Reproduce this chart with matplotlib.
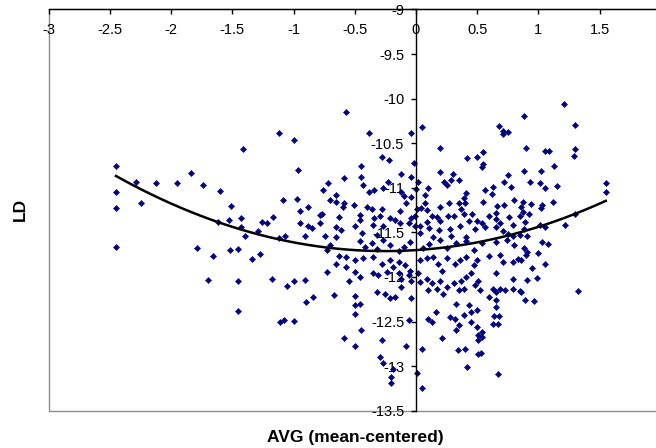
## Scatter of LD vs mean-centered AVG with 2nd order trendline (Excel look)
import numpy as np
import matplotlib
matplotlib.use("Agg")
import matplotlib.pyplot as plt
from matplotlib.patches import Rectangle
from matplotlib.ticker import FuncFormatter, MultipleLocator

# Points (AVG mean-centered, LD)
avg_left = [-2.45, -2.45, -2.45, -2.45, -2.29, -2.25, -2.12, -1.95, -1.84, -1.74, -1.60, -1.51,
            -1.53, -1.62, -1.41, -1.12, -1.00, -0.96, -1.43, -1.43, -1.40, -1.29, -1.26, -1.22,
            -1.17, -1.09, -0.97, -0.95, -0.88, -0.95, -0.88, -0.85, -0.91, -1.07, -1.12, -0.78,
            -0.77, -0.76, -0.72, -0.78, -0.74, -0.73, -1.79, -1.66, -1.52, -1.45, -1.34, -1.27,
            -1.70, -1.45, -1.18, -1.05, -1.00, -0.91, -0.90, -0.84, -1.45, -1.11, -1.08, -1.00,
            -0.73, -0.67, -0.65, -0.70, -0.63, -0.70, -0.65, -0.65, -0.63, -0.65, -0.65]
ld_left = [-10.75, -11.05, -11.23, -11.66, -10.94, -11.17, -10.95, -10.95, -10.83, -10.97, -11.04, -11.20,
           -11.36, -11.38, -10.56, -10.39, -10.46, -10.80, -11.34, -11.44, -11.54, -11.49, -11.38, -11.40,
           -11.33, -11.14, -11.13, -11.26, -11.22, -11.40, -11.43, -11.45, -11.54, -11.54, -11.56, -11.30,
           -11.29, -11.02, -10.95, -11.39, -11.54, -11.70, -11.67, -11.77, -11.70, -11.69, -11.80, -11.74,
           -12.03, -12.04, -12.02, -12.10, -12.04, -12.03, -12.28, -12.22, -12.38, -12.50, -12.48, -12.49,
           -11.94, -12.20, -11.86, -11.64, -11.77, -11.14, -11.08, -11.16, -11.33, -11.44, -11.55]

avg_upper = [-0.57, -0.38, -0.04, 0.05, -0.28, -0.22, -0.45, -0.45, -0.59, -0.43, -0.34, -0.38,
             -0.27, -0.23, -0.12, -0.02, -0.04, 0.20, 0.20, 0.42, 0.50, 0.02, 0.00, 0.10,
             -0.12, -0.10, -0.04, 0.07, 0.23, 0.25, 0.29, 0.35, 0.41, 0.39, 0.35, 0.27,
             0.20, 0.07, 0.04, 0.09, 0.13, 0.17, 0.20, 0.26, 0.31, 0.37, 0.40, 0.39,
             0.46, 0.43, 0.50, 0.48, 0.36, 0.28, 0.19, 0.11, 0.09, 0.03, 0.01, -0.01,
             -0.04, -0.06, -0.08, -0.13, -0.17, -0.13, -0.21, -0.29, -0.28, -0.36, -0.40, -0.51,
             -0.59, -0.60, -0.46, -0.46, -0.34, -0.35, -0.27, -0.50, -0.44, -0.01, 0.03, 0.14,
             0.29, 0.41, -0.32, -0.61, 0.30]
ld_upper = [-10.15, -10.38, -10.38, -10.32, -10.65, -10.69, -10.75, -10.88, -10.89, -10.97, -11.02, -11.05,
            -11.00, -10.94, -10.84, -10.72, -10.88, -10.55, -10.82, -10.67, -10.66, -10.94, -11.01, -11.00,
            -11.05, -11.09, -11.10, -11.08, -10.93, -10.97, -10.91, -10.91, -11.06, -11.12, -11.17, -11.17,
            -11.22, -11.17, -11.23, -11.25, -11.32, -11.33, -11.37, -11.32, -11.32, -11.24, -11.17, -11.29,
            -11.29, -11.37, -11.37, -11.46, -11.43, -11.46, -11.47, -11.45, -11.38, -11.43, -11.24, -11.32,
            -11.34, -11.40, -11.17, -11.26, -11.36, -11.39, -11.34, -11.32, -11.24, -11.24, -11.21, -11.19,
            -11.17, -11.22, -11.30, -11.36, -11.34, -11.42, -11.43, -11.43, -11.51, -11.43, -11.51, -11.55,
            -11.54, -11.55, -11.53, -11.47, -10.84]

avg_lower = [-0.46, -0.42, -0.36, -0.32, -0.27, -0.21, -0.14, -0.10, -0.05, 0.06, 0.11, 0.20,
             0.25, 0.33, 0.41, 0.47,
             -0.57, -0.50, -0.43, -0.35, -0.28, -0.21, -0.19, -0.14, -0.09, -0.05, 0.03, 0.09,
             0.14, 0.18, 0.21, 0.25, 0.32, 0.36, 0.41, 0.47, 0.50, -0.57,
             -0.50, -0.55, -0.46, -0.35, -0.31, -0.24, -0.14, -0.12, -0.06, -0.04, 0.02, 0.03,
             0.09, 0.13, 0.20, 0.25, 0.31, 0.35, 0.37, 0.41, 0.45, 0.48, 0.51,
             -0.50, -0.46, -0.50, -0.32, -0.25, -0.21, -0.17, -0.12, -0.04, 0.10, 0.17, 0.22,
             0.33, 0.39, 0.43, 0.50, 0.45,
             -0.50, -0.06, 0.10, 0.13, 0.16, 0.28, 0.32, 0.39, 0.45, 0.50,
             -0.45, -0.59, -0.28, -0.50, -0.08, 0.05, 0.21, 0.33, 0.35, 0.51, 0.51, 0.34,
             0.40, -0.29, -0.27, -0.19, -0.20, -0.20, 0.01, 0.05, 0.42, 0.51]
ld_lower = [-11.60, -11.66, -11.62, -11.69, -11.59, -11.64, -11.71, -11.66, -11.61, -11.68, -11.63, -11.58,
            -11.67, -11.62, -11.60, -11.70,
            -11.78, -11.81, -11.79, -11.78, -11.85, -11.81, -11.89, -11.83, -11.87, -11.93, -11.81, -11.79,
            -11.78, -11.85, -11.93, -11.79, -11.85, -11.81, -11.78, -11.87, -11.81, -11.89,
            -11.94, -12.04, -12.00, -11.96, -11.98, -11.94, -11.96, -12.02, -11.98, -12.04, -11.96, -12.06,
            -12.02, -12.07, -12.04, -12.11, -12.07, -12.15, -12.04, -12.00, -11.96, -12.09, -12.04,
            -12.21, -12.30, -12.32, -12.17, -12.19, -12.24, -12.22, -12.11, -12.24, -12.15, -12.13, -12.19,
            -12.30, -12.13, -12.32, -12.37, -12.39,
            -12.41, -12.48, -12.47, -12.50, -12.39, -12.45, -12.47, -12.43, -12.50, -12.56,
            -12.60, -12.68, -12.71, -12.78, -12.78, -12.81, -12.68, -12.60, -12.54, -12.65, -12.71, -12.82,
            -12.81, -12.90, -12.96, -13.03, -13.12, -13.19, -13.08, -13.25, -13.01, -12.86]

avg_right = [1.21, 0.88, 0.68, 0.71, 0.75, 0.71, 1.30, 0.90, 1.05, 1.09, 1.30, 1.29,
             0.55, 0.55, 0.54, 1.13, 1.02, 0.88, 0.75, 0.72, 0.78, 0.93, 1.01, 1.05,
             1.15, 1.55, 1.55, 0.63, 0.56, 0.62, 0.55, 0.66, 0.72, 0.80, 0.87, 0.94,
             0.86, 0.87, 0.92, 1.03, 1.02, 1.12, 1.30, 0.65, 0.60, 0.65, 0.76, 0.85,
             0.89, 0.54, 0.56, 0.69, 0.79, 1.01, 1.05, 1.22, 0.65, 0.71, 0.75, 0.88,
             0.85, 0.91, 0.79,
             0.54, 0.65, 0.74, 0.80, 0.88, 0.91, 0.90, 1.03, 1.08, 1.00, 0.60, 0.69,
             0.71, 0.79, 0.83, 0.86, 1.05, 0.95, 0.65, 0.79, 0.91, 0.99, 0.52, 0.63,
             0.65, 0.69, 0.73, 0.79, 0.85, 0.86, 0.60, 0.65, 0.89, 0.96, 1.32, 0.65,
             0.64, 0.68, 0.63, 0.67, 0.54, 0.54, 0.53, 0.67]
ld_right = [-10.06, -10.20, -10.31, -10.36, -10.37, -10.40, -10.30, -10.55, -10.59, -10.59, -10.56, -10.64,
            -10.60, -10.73, -10.77, -10.75, -10.81, -10.81, -10.86, -10.94, -10.99, -10.93, -10.95, -11.00,
            -10.98, -10.95, -11.05, -10.99, -11.02, -11.07, -11.16, -11.20, -11.19, -11.14, -11.16, -11.18,
            -11.22, -11.27, -11.29, -11.19, -11.23, -11.16, -11.29, -11.28, -11.32, -11.35, -11.33, -11.32,
            -11.38, -11.39, -11.44, -11.40, -11.42, -11.42, -11.44, -11.42, -11.44, -11.49, -11.52, -11.46,
            -11.53, -11.54, -11.54,
            -11.62, -11.61, -11.59, -11.64, -11.68, -11.72, -11.75, -11.61, -11.63, -11.73, -11.76, -11.75,
            -11.83, -11.83, -11.80, -11.81, -11.86, -11.90, -11.96, -12.02, -12.03, -12.01, -12.15, -12.14,
            -12.17, -12.14, -12.15, -12.13, -12.16, -12.17, -12.23, -12.26, -12.26, -12.27, -12.16, -12.34,
            -12.44, -12.44, -12.53, -12.53, -12.62, -12.67, -12.85, -13.09]

# polynomial trendline (order 2)
trend_coef = [0.174, 0.087, -11.699]

# the tick at 2 lies on the cropped right edge, its label is not shown
x_ticks = [-3, -2.5, -2, -1.5, -1, -0.5, 0, 0.5, 1, 1.5]
x_label = "AVG (mean-centered)"
y_label = "LD"

avg = np.array(avg_left + avg_upper + avg_lower + avg_right)
ld = np.array(ld_left + ld_upper + ld_lower + ld_right)

plt.rcParams['font.family'] = ['Liberation Sans', 'DejaVu Sans']

fig = plt.figure(figsize=(6.56, 4.48), dpi=100)
ax = fig.add_axes([0.0742, 0.0833, 0.9332, 0.8955])

ax.plot(avg, ld, linestyle='none', marker='D', ms=3.1, color='#000080',
        markeredgewidth=0.4, zorder=2)

xt = np.linspace(avg.min(), avg.max(), 200)
ax.plot(xt, np.polyval(trend_coef, xt), color='black', lw=1.8, zorder=3)

ax.set_xlim(-3, 2)
ax.set_ylim(-13.5, -9)

# axes cross at x=0 and y=-9 like the Excel original
ax.spines['bottom'].set_position(('data', -9))
ax.spines['left'].set_position(('data', 0))
ax.spines['top'].set_visible(False)
ax.spines['right'].set_visible(False)
for s in ('bottom', 'left'):
    ax.spines[s].set_linewidth(1.0)
    ax.spines[s].set_zorder(2.5)

ax.add_patch(Rectangle((0, 0), 1, 1, transform=ax.transAxes, fill=False,
                       edgecolor='#8c8c8c', lw=1.0, clip_on=False, zorder=0.5))

ax.set_xticks(x_ticks)
ax.yaxis.set_major_locator(MultipleLocator(0.5))
fmt = FuncFormatter(lambda v, p: f"{v:g}")
ax.xaxis.set_major_formatter(fmt)
ax.yaxis.set_major_formatter(fmt)
ax.tick_params(axis='x', direction='out', length=3.5, width=1, labelsize=10.5, pad=6)
ax.tick_params(axis='y', direction='out', length=3.5, width=1, labelsize=10.5, pad=5)

fig.text(20 / 656, 1 - 209 / 448, y_label, rotation=90, ha='center', va='center',
         fontsize=12.5, fontweight='bold')
fig.text(355 / 656, 1 - 437 / 448, x_label, ha='center', va='center',
         fontsize=12.5, fontweight='bold')

fig.savefig('out.png', dpi=100)
